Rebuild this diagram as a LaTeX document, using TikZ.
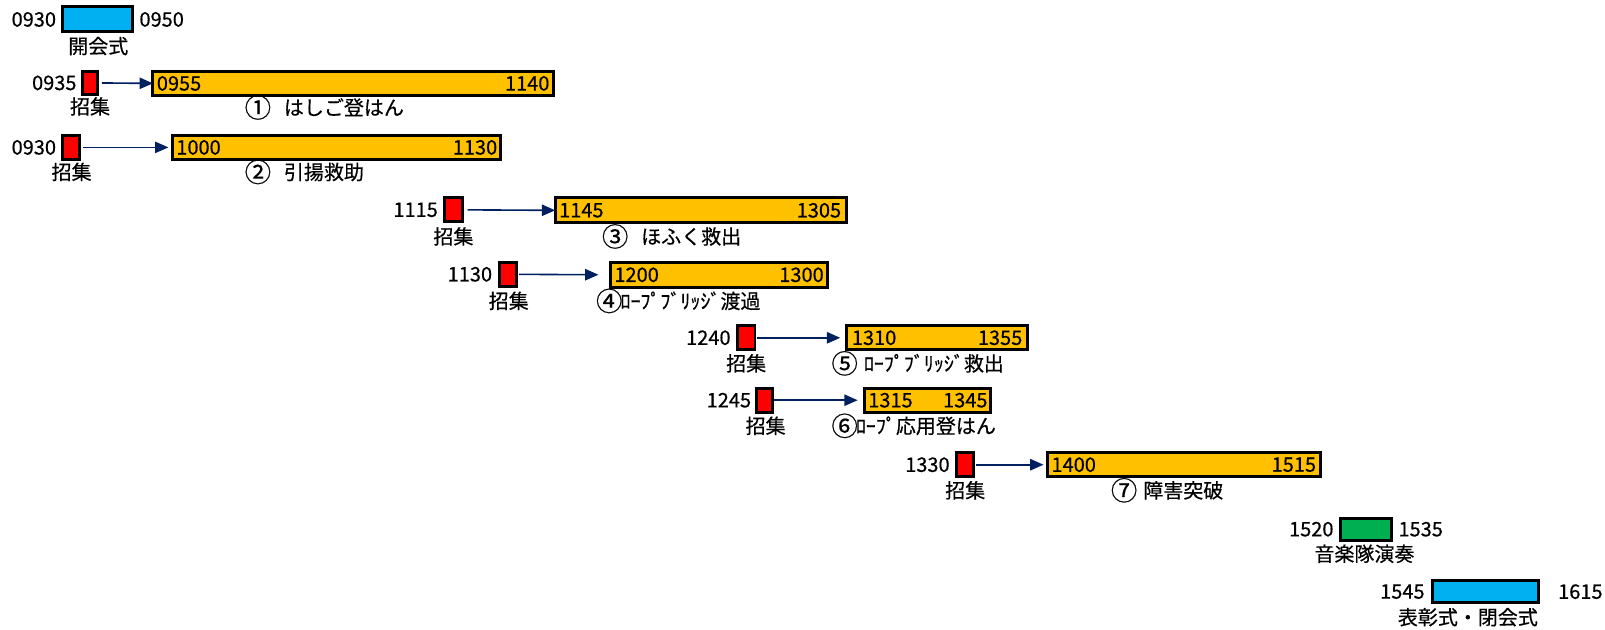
\documentclass[tikz,border=0pt]{standalone}
\usepackage{fontspec}
\usepackage{graphicx}
\setmainfont{Noto Sans CJK JP}[FakeBold=0.5]
\usetikzlibrary{arrows.meta}
\definecolor{cblue}{HTML}{00B0F0}
\definecolor{corange}{HTML}{FFC000}
\definecolor{cred}{HTML}{FF0000}
\definecolor{cgreen}{HTML}{00B050}
\definecolor{cnavy}{HTML}{002060}
\newcommand\bx[6]{\node[box,fill=#2,minimum width={(#5-#3-2.8)*0.7677pt},minimum height={(#6-#4-2.8)*0.7677pt}] (#1) at ({(#3+#5)/2},{(#4+#6)/2}) {};}
\newcommand\cnum[2][1.12em]{\makebox[#1][c]{\raisebox{-0.12em}{\scalebox{1.32}{#2}}}}
\begin{document}
\begin{tikzpicture}[x=0.7677pt,y=-0.7677pt,
  font=\fontsize{15}{18}\selectfont,
  box/.style={draw=black,line width=2.2pt,inner sep=0pt,outer sep=0pt},
  txt/.style={inner sep=0pt},
  arr/.style={draw=cnavy,line width=1.2pt,-{Triangle[length=10pt,width=8.5pt]}}]
\useasboundingbox (0,0) rectangle (1568,615);
% opening
\bx{b1}{cblue}{60}{5}{131}{32}
\node[txt,anchor=east] (b1s) at (55,19) {0930};
\node[txt,anchor=west] (b1e) at (136,19) {0950};
\node[txt] (b1l) at (96,45) {開会式};
% row 1
\bx{r1}{cred}{79}{68}{97}{94}
\node[txt,anchor=east] (r1t) at (75,81) {0935};
\node[txt] (r1l) at (88,104) {招集};
\bx{o1}{corange}{148}{68}{542}{95}
\node[txt,anchor=west] (o1s) at (153,81.5) {0955};
\node[txt,anchor=east] (o1e) at (537,81.5) {1140};
\node[txt,anchor=west] (o1l) at (240,105) {\cnum[1.2em]{①}\hspace{0.7em}はしご登はん};
\draw[arr,shorten <=3pt] (r1.east) -- (o1.west);
% row 2
\bx{r2}{cred}{60}{131}{79}{157}
\node[txt,anchor=east] (r2t) at (55,144) {0930};
\node[txt] (r2l) at (70,168) {招集};
\bx{o2}{corange}{167}{131}{490}{157}
\node[txt,anchor=west] (o2s) at (172,144) {1000};
\node[txt,anchor=east] (o2e) at (486,144) {1130};
\node[txt,anchor=west] (o2l) at (240,168) {\cnum[1.2em]{②}\hspace{0.7em}引揚救助};
\draw[arr,shorten <=3pt,shorten >=3pt] (r2.east) -- (o2.west);
% row 3
\bx{r3}{cred}{433}{192}{453}{218}
\node[txt,anchor=east] (r3t) at (428,205) {1115};
\node[txt] (r3l) at (443,231) {招集};
\bx{o3}{corange}{541}{192}{828}{219}
\node[txt,anchor=west] (o3s) at (546,205.5) {1145};
\node[txt,anchor=east] (o3e) at (822,205.5) {1305};
\node[txt,anchor=west] (o3l) at (589,231) {\cnum[1.2em]{③}\hspace{0.7em}ほふく救出};
\draw[arr,shorten <=4pt] (r3.east) -- (o3.west);
% row 4
\bx{r4}{cred}{487}{255}{506}{281}
\node[txt,anchor=east] (r4t) at (481,268) {1130};
\node[txt] (r4l) at (497,294) {招集};
\bx{o4}{corange}{595}{255}{810}{282}
\node[txt,anchor=west] (o4l) at (584,294) {\cnum{④}ﾛｰﾌﾟﾌﾞﾘｯｼﾞ渡過};
\node[txt,anchor=west] (o4s) at (600,268.5) {1200};
\node[txt,anchor=east] (o4e) at (805,268.5) {1300};
\draw[arr,shorten <=2pt,shorten >=9pt] (r4.east) -- (o4.west);
% row 5
\bx{r5}{cred}{719}{317}{739}{343}
\node[txt,anchor=east] (r5t) at (714,330) {1240};
\node[txt] (r5l) at (729,355) {招集};
\bx{o5}{corange}{826}{317}{1005}{343}
\node[txt,anchor=west] (o5s) at (832,330) {1310};
\node[txt,anchor=east] (o5e) at (999,330) {1355};
\node[txt,anchor=west] (o5l) at (814,355) {\cnum{⑤}\hspace{0.4em}ﾛｰﾌﾟﾌﾞﾘｯｼﾞ救出};
\draw[arr,shorten <=1.5pt,shorten >=5pt] (r5.east) -- (o5.west);
% row 6
\bx{r6}{cred}{738}{378}{756}{404}
\node[txt,anchor=east] (r6t) at (734,391) {1245};
\node[txt] (r6l) at (748,416) {招集};
\bx{o6}{corange}{843}{378}{969}{404}
\node[txt,anchor=west] (o6s) at (848,391) {1315};
\node[txt,anchor=east] (o6e) at (965,391) {1345};
\node[txt,anchor=west] (o6l) at (814,416) {\cnum{⑥}ﾛｰﾌﾟ応用登はん};
\draw[arr,shorten <=1pt,shorten >=5pt] (r6.east) -- (o6.west);
% row 7
\bx{r7}{cred}{933}{441}{952}{467}
\node[txt,anchor=east] (r7t) at (928,454) {1330};
\node[txt] (r7l) at (943,479) {招集};
\bx{o7}{corange}{1022}{441}{1291}{467}
\node[txt,anchor=west] (o7s) at (1027,454) {1400};
\node[txt,anchor=east] (o7e) at (1286,454) {1515};
\node[txt,anchor=west] (o7l) at (1087,479) {\cnum{⑦}\hspace{0.4em}障害突破};
\draw[arr,shorten <=2pt,shorten >=3pt] (r7.east) -- (o7.west);
% band
\bx{g1}{cgreen}{1308}{505}{1361}{529}
\node[txt,anchor=east] (g1s) at (1303,517) {1520};
\node[txt,anchor=west] (g1e) at (1366,517) {1535};
\node[txt] (g1l) at (1333,541) {音楽隊演奏};
% closing
\bx{b2}{cblue}{1398}{566}{1504}{590}
\node[txt,anchor=east] (b2s) at (1392,578) {1545};
\node[txt,anchor=west] (b2e) at (1522,578) {1615};
\node[txt] (b2l) at (1434,603) {表彰式・閉会式};
\end{tikzpicture}
\end{document}
